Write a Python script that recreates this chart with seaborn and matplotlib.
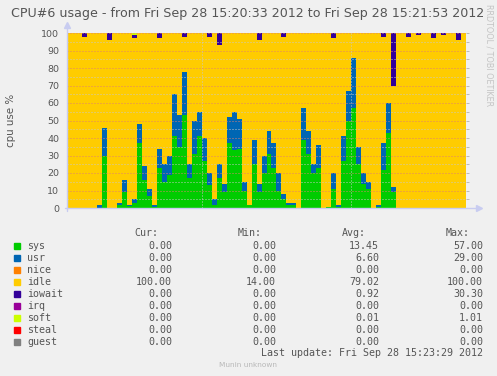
import numpy as np
import pandas as pd
import matplotlib
matplotlib.use('Agg')
import matplotlib.pyplot as plt
from matplotlib.patches import Rectangle
import seaborn as sns

# one sample per second, 15:20:33 -> 15:21:53
sys_vals = [0, 0, 0, 0, 0, 0, 0, 30, 0, 0, 2, 9, 1, 3, 37, 16, 7, 0.5, 23, 15,
            19, 41, 35, 53, 17, 31, 41, 27, 13, 2, 17, 9, 37, 33, 34, 10, 2, 25, 9, 20,
            31, 23, 10, 5, 2, 2, 0, 39, 31, 20, 23, 0, 0.5, 11, 0.5, 27, 50, 57, 25, 14,
            11, 0, 0.5, 22, 43, 9, 0, 0, 0, 0, 0, 0, 0, 0, 0, 0, 0, 0, 0, 0]
usr_vals = [0, 0, 0, 0, 0, 0, 2, 16, 0, 0, 1, 7, 1, 2, 11, 8, 4, 1, 11, 10,
            11, 24, 18, 25, 8, 19, 14, 13, 7, 3, 8, 5, 15, 22, 17, 5, 0, 14, 5, 10,
            13, 14, 10, 3, 1, 1, 0, 18, 13, 5, 13, 0, 0, 9, 1, 14, 17, 29, 10, 6,
            4, 0, 1, 15, 17, 3, 0, 0, 0, 0, 0, 0, 0, 0, 0, 0, 0, 0, 0, 0]
iowait_vals = [0, 0, 0, 2, 0, 0, 0, 0, 4, 0, 0, 0, 0, 2, 0, 0, 0, 0, 3, 0,
               0, 0, 0, 2, 0, 0, 0, 0, 2, 0, 7, 0, 0, 0, 0, 0, 0, 0, 4, 0,
               0, 0, 0, 2, 0, 0, 0, 0, 0, 0, 0, 0, 0, 3, 0, 0, 0, 0, 0, 0,
               0, 0, 0, 2, 0, 30.3, 0, 0, 2, 0, 1, 0, 0, 3, 0, 1, 0, 0, 4, 0]
soft_vals = [0] * 80
soft_vals[13] = 1.01
idle_vals = [100 - a - b - c - d for a, b, c, d in zip(sys_vals, usr_vals, iowait_vals, soft_vals)]

series = ['sys', 'usr', 'nice', 'idle', 'iowait', 'irq', 'soft', 'steal', 'guest']
colors = ['#00CC00', '#0066B3', '#FF8000', '#FFCC00', '#330099',
          '#990099', '#CCFF00', '#FF0000', '#808080']
cur = ['0.00', '0.00', '0.00', '100.00', '0.00', '0.00', '0.00', '0.00', '0.00']
mins = ['0.00', '0.00', '0.00', '14.00', '0.00', '0.00', '0.00', '0.00', '0.00']
avgs = ['13.45', '6.60', '0.00', '79.02', '0.92', '0.00', '0.01', '0.00', '0.00']
maxs = ['57.00', '29.00', '0.00', '100.00', '30.30', '0.00', '1.01', '0.00', '0.00']

stack = {'sys': sys_vals, 'usr': usr_vals, 'idle': idle_vals,
         'iowait': iowait_vals, 'soft': soft_vals}
rows = []
for name, vals in stack.items():
    for i, v in enumerate(vals):
        rows.append({'t': i, 'cpu': name, 'val': v})
df = pd.DataFrame(rows)

sns.set_style('white')
plt.rcParams['font.family'] = ['DejaVu Sans']
plt.rcParams['lines.scale_dashes'] = False
bg = '#F0F0F0'
txt = '#555555'

W, H = 497, 376
fig = plt.figure(figsize=(W / 100, H / 100), dpi=100, facecolor=bg)
ax = fig.add_axes([67 / W, 1 - 208 / H, 399 / W, 175 / H])
ax.set_facecolor(bg)

pal = dict(zip(series, colors))
order = list(stack.keys())[::-1]  # seaborn puts the last hue level at the bottom
sns.histplot(data=df, x='t', weights='val', hue='cpu', hue_order=order,
             multiple='stack', discrete=True, shrink=1, palette=pal,
             alpha=1, linewidth=0, legend=False, ax=ax, antialiased=False)

ax.set_xlim(-0.5, 79.5)
ax.set_ylim(0, 100)
ax.set_xlabel('')
ax.set_ylabel('')
ax.set_xticks([])
ax.set_yticks(range(0, 101, 10))
ax.set_yticks(range(5, 100, 10), minor=True)
ax.tick_params(axis='y', which='both', length=2.5, width=0.6, color='#b0b0b0',
               labelsize=6.8, labelcolor=txt, pad=3, right=True)
for s in ax.spines.values():
    s.set_visible(False)

# grid over the stacked areas
for y in range(5, 101, 5):
    c = '#E08070' if y % 10 == 0 else '#c8c8c8'
    ax.axhline(y, color=c, lw=0.7, dashes=(0.72, 1.44), zorder=5)
for x in (26.5, 56.5):
    ax.axvline(x, color='#c8c8c8', lw=0.7, dashes=(0.72, 1.44), zorder=5)

axc = '#C8CCF0'
ax.plot([-0.5, -0.5], [-1.5, 103], color=axc, lw=1, clip_on=False, zorder=6)
ax.plot([-1, 81.5], [0, 0], color=axc, lw=1, clip_on=False, zorder=6)
ax.plot([-0.5], [104.5], marker='^', ms=4, color=axc, clip_on=False, zorder=6)
ax.plot([82.2], [0], marker='>', ms=4, color=axc, clip_on=False, zorder=6)

fig.text(248 / W, 1 - 13 / H,
         'CPU#6 usage - from Fri Sep 28 15:20:33 2012 to Fri Sep 28 15:21:53 2012',
         ha='center', va='center', fontsize=9.05, color=txt)
fig.text(489 / W, 1 - 55 / H, 'RRDTOOL / TOBI OETIKER', rotation=270,
         ha='center', va='center', fontsize=5.8, color='#C4C4C4')
fig.text(11 / W, 1 - 120 / H, 'cpu use %', rotation=90,
         ha='center', va='center', fontsize=7.4, color=txt)

mono = 'DejaVu Sans Mono'
fs = 7.2
head_x = [158, 262, 366, 470]
val_x = [172, 276, 379, 483]
for x, h in zip(head_x, ['Cur:', 'Min:', 'Avg:', 'Max:']):
    fig.text(x / W, 1 - 233.5 / H, h, ha='right', va='center',
             family=mono, fontsize=fs, color=txt)
for k, name in enumerate(series):
    y = 245.7 + 12 * k
    fig.patches.append(Rectangle((14 / W, 1 - (y + 3) / H), 6 / W, 6 / H,
                                 transform=fig.transFigure, color=colors[k]))
    fig.text(27 / W, 1 - y / H, name, ha='left', va='center',
             family=mono, fontsize=fs, color=txt)
    for x, v in zip(val_x, [cur[k], mins[k], avgs[k], maxs[k]]):
        fig.text(x / W, 1 - y / H, v, ha='right', va='center',
                 family=mono, fontsize=fs, color=txt)
fig.text(483 / W, 1 - 353.3 / H, 'Last update: Fri Sep 28 15:23:29 2012',
         ha='right', va='center', family=mono, fontsize=fs, color=txt)
fig.text(248 / W, 1 - 365.3 / H, 'Munin unknown', ha='center', va='center',
         fontsize=5.3, color='#B8B8B8')

fig.savefig('out.png', dpi=100, facecolor=bg)
